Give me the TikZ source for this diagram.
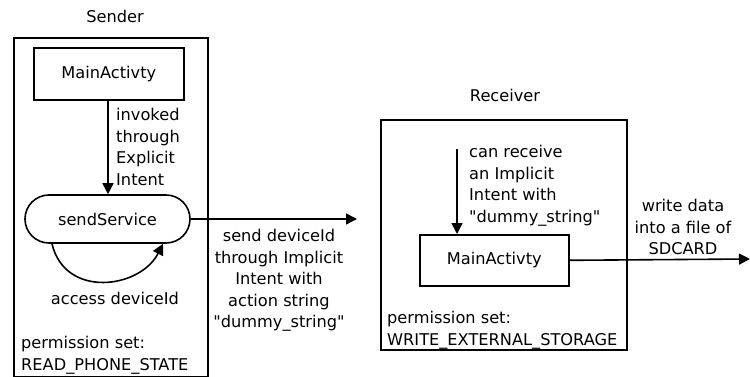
\documentclass[tikz,border=0pt]{standalone}
\usepackage{fontspec}
\setmainfont{DejaVu Sans}[Ligatures=TeXOff]
\usetikzlibrary{arrows.meta,shapes.misc,calc}
\begin{document}
\begin{tikzpicture}[x=1pt,y=-1pt,
  every node/.style={font=\fontsize{16.2}{21.5}\selectfont, inner sep=0pt},
  frame/.style={draw, line width=1.6pt, anchor=north west},
  actbox/.style={draw, line width=1.6pt, anchor=north west},
  conn/.style={line width=1.6pt, -{Triangle[length=11pt,width=11pt]}},
  lbl/.style={align=left, anchor=north west},
  clbl/.style={align=center, anchor=north}]
\useasboundingbox (0,0) rectangle (750,377);
% Sender
\node (stitle) at (115,16) {Sender};
\node[frame, minimum width=194pt, minimum height=339pt] (sbox) at (13,37) {};
\node[actbox, minimum width=150pt, minimum height=52pt] (sma) at (33,47) {MainActivty};
\node[draw, line width=1.6pt, rounded rectangle, minimum width=165pt, minimum height=48pt] (ss) at (107.5,219) {sendService};
\draw[conn] (sma.south -| 108,0) -- (ss.north -| 108,0);
\node[lbl] (inv) at (116,108) {invoked\\through\\Explicit\\Intent};
\draw[conn] ([xshift=-55.5pt]ss.south) .. controls +(13,55) and +(-23,45) .. ([xshift=55.5pt]ss.south);
\node (acc) at (115,298) {access deviceId};
\node[lbl] (sperm) at (21,336) {permission set:\\READ\_PHONE\_STATE};
% middle arrow
\coordinate (mid) at (357,219);
\draw[conn] (ss.east) -- (mid);
\node[clbl] (send) at (279,229) {send deviceId\\through Implicit\\Intent with\\action string\\"dummy\_string"};
% Receiver
\node (rtitle) at (505,95) {Receiver};
\node[frame, minimum width=246pt, minimum height=230pt] (rbox) at (380,119) {};
\node[actbox, minimum width=149pt, minimum height=51pt] (rma) at (419,234) {MainActivty};
\coordinate (rin) at (457,149);
\draw[conn] (rin) -- (rin |- rma.north);
\node[lbl] (recv) at (469,145) {can receive\\an Implicit\\Intent with\\"dummy\_string"};
\node[lbl] (rperm) at (387,311) {permission set:\\WRITE\_EXTERNAL\_STORAGE};
\coordinate (out) at (750,259);
\draw[conn] (rma.east) -- (out);
\node[clbl] (wr) at (683,199) {write data\\into a file of\\SDCARD};
\end{tikzpicture}
\end{document}
